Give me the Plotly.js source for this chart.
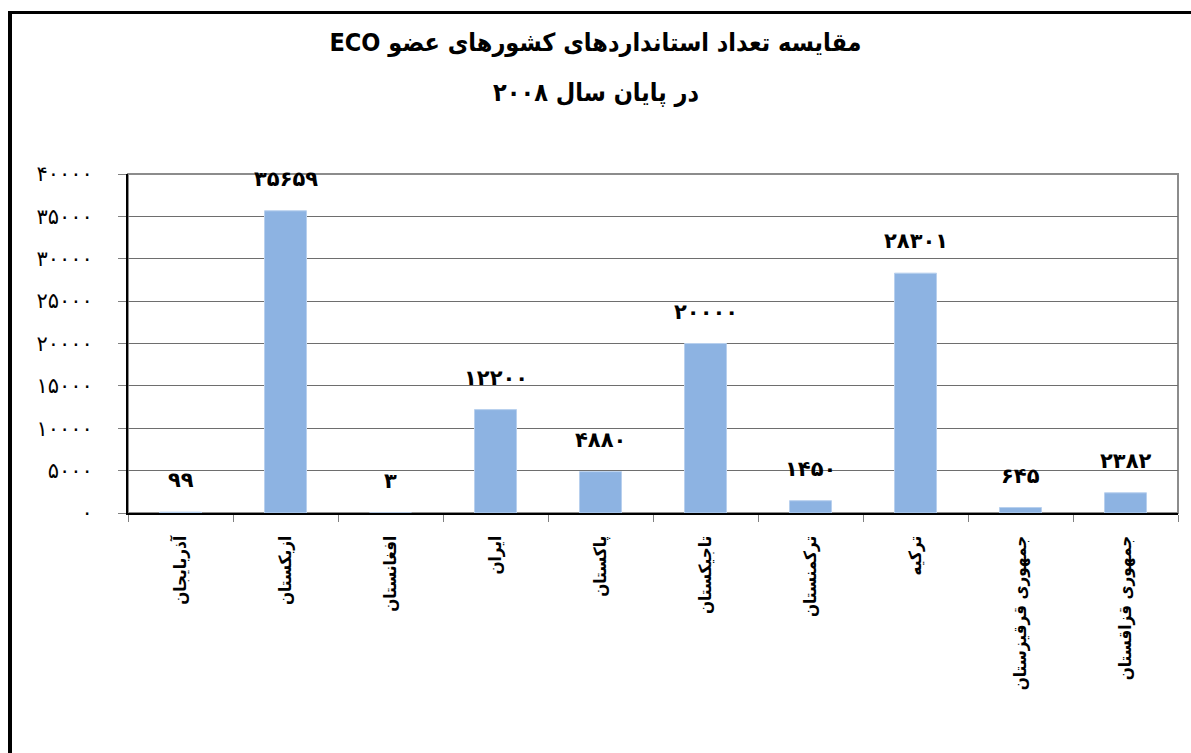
<!DOCTYPE html>
<html>
<head>
<meta charset="utf-8">
<script src="https://cdn.plot.ly/plotly-3.0.1.min.js"></script>
<style>
  html, body { margin: 0; padding: 0; background: #fff; }
  #wrap { position: relative; width: 1191px; height: 753px; overflow: hidden; }
  #chart { width: 1191px; height: 753px; }
  #frame { position: absolute; left: 8px; top: 11px; width: 1300px; height: 900px;
           border-left: 4px solid #000; border-top: 3px solid #000; pointer-events: none; }
</style>
</head>
<body>
<div id="wrap">
  <div id="chart"></div>
  <div id="frame"></div>
</div>
<script>
// ---- data ----
const countries = ['آذربایجان', 'ازبکستان', 'افغانستان', 'ایران', 'پاکستان',
                   'تاجیکستان', 'ترکمنستان', 'ترکیه', 'جمهوری قرقیزستان', 'جمهوری قزاقستان'];
const standards = [99, 35659, 3, 12200, 4880, 20000, 1450, 28301, 645, 2382];
const yTickVals = [0, 5000, 10000, 15000, 20000, 25000, 30000, 35000, 40000];
const yTickText = ['۰', '۵۰۰۰', '۱۰۰۰۰', '۱۵۰۰۰', '۲۰۰۰۰', '۲۵۰۰۰', '۳۰۰۰۰', '۳۵۰۰۰', '۴۰۰۰۰'];
const titleLine1 = 'مقایسه تعداد استانداردهای کشورهای عضو ECO';
const titleLine2 = 'در پایان سال ۲۰۰۸';

const faDigits = '۰۱۲۳۴۵۶۷۸۹';
function toFa(n) { return String(n).replace(/[0-9]/g, d => faDigits[+d]); }
const RLE = '\u202B', PDF = '\u202C';
function rtl(s) { return RLE + s + PDF; }

const FONT = '"DejaVu Sans", "Noto Sans", sans-serif';
const FONT_C = '"DejaVu Sans Condensed", "DejaVu Sans", sans-serif';

const trace = {
  type: 'bar',
  x: countries,
  y: standards,
  width: 0.4,
  marker: { color: '#8DB3E2', line: { color: '#B8D0EE', width: 1 } },
  hoverinfo: 'x+y'
};

const labelAnnotations = countries.map((c, i) => ({
  x: c, y: standards[i], xref: 'x', yref: 'y',
  text: '<b>' + toFa(standards[i]) + '</b>',
  showarrow: false, yanchor: 'bottom', yshift: 18,
  font: { family: FONT, size: 21, color: '#000' }
}));

labelAnnotations.push({
  xref: 'paper', yref: 'paper', x: 0.4457, y: 1.24,
  xanchor: 'center', yanchor: 'middle',
  text: '<b>' + rtl(titleLine2) + '</b>', showarrow: false,
  font: { family: FONT_C, size: 25, color: '#000' }
});

const layout = {
  width: 1191, height: 753,
  paper_bgcolor: '#fff', plot_bgcolor: '#fff',
  margin: { l: 128, r: 13, t: 174, b: 240 },
  showlegend: false,
  title: {
    text: '<b>' + rtl(titleLine1) + '</b>',
    x: 0.5, xanchor: 'center', xref: 'container',
    y: 1 - 42 / 753, yanchor: 'middle', yref: 'container',
    font: { family: FONT_C, size: 25, color: '#000' }
  },
  xaxis: {
    type: 'category',
    tickangle: -90,
    tickson: 'boundaries',
    ticks: 'outside', ticklen: 7, tickcolor: '#808080', tickwidth: 1,
    showline: true, linecolor: '#000', linewidth: 2,
    showgrid: false, zeroline: false,
    tickfont: { family: FONT_C, size: 17, color: '#000', weight: 'bold' },
    ticklabelstandoff: 14
  },
  yaxis: {
    range: [0, 40000],
    tickvals: yTickVals, ticktext: yTickText,
    ticks: 'outside', ticklen: 8, tickcolor: '#808080',
    showline: true, linecolor: '#000', linewidth: 2,
    showgrid: true, gridcolor: '#6E6E6E', gridwidth: 1,
    zeroline: false,
    tickfont: { family: FONT, size: 21, color: '#000' },
    ticklabelstandoff: 21
  },
  bargap: 0.6,
  annotations: labelAnnotations,
  shapes: [{
    type: 'rect', xref: 'paper', yref: 'paper', x0: 0, x1: 1, y0: 0, y1: 1,
    line: { color: '#8C8C8C', width: 2 }, layer: 'below'
  }]
};

Plotly.newPlot('chart', [trace], layout, { displayModeBar: false, staticPlot: true });
</script>
</body>
</html>
